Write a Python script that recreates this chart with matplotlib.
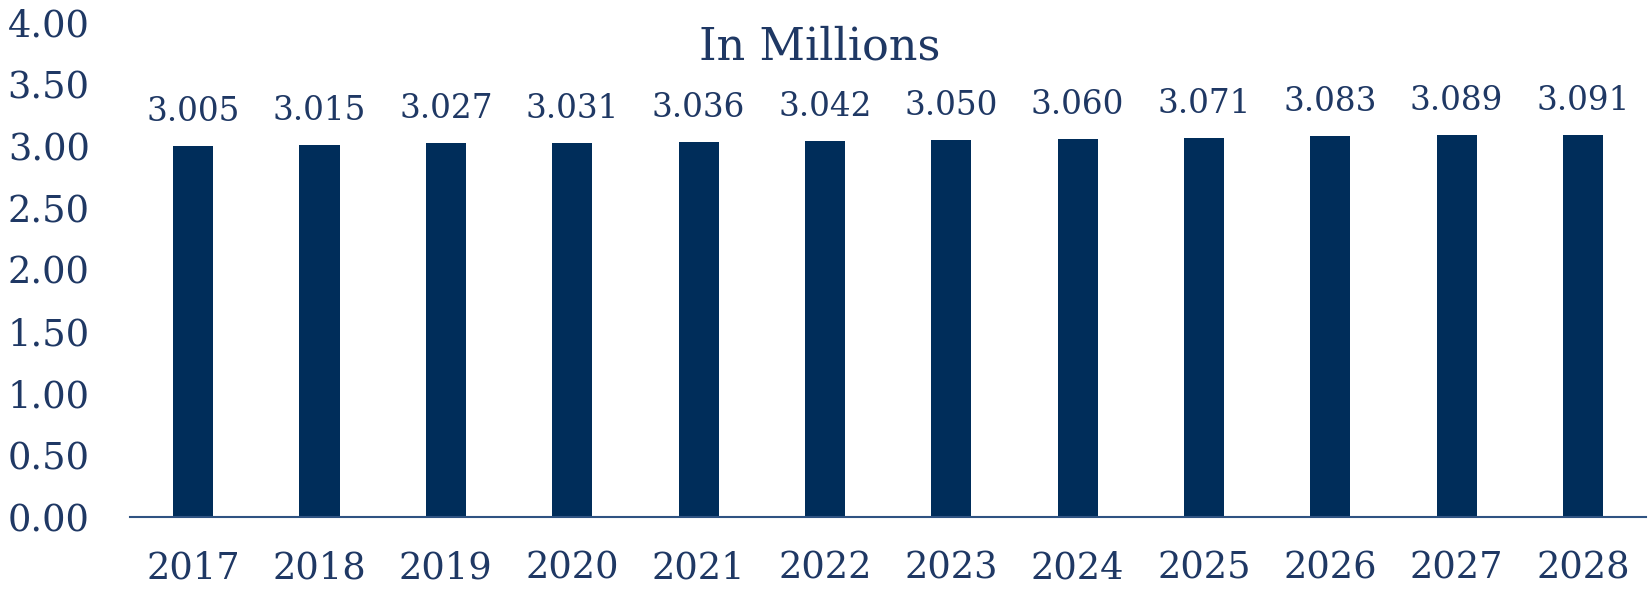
import matplotlib
matplotlib.use('Agg')
import matplotlib.pyplot as plt

years = ['2017', '2018', '2019', '2020', '2021', '2022',
         '2023', '2024', '2025', '2026', '2027', '2028']
values = [3.005, 3.015, 3.027, 3.031, 3.036, 3.042,
          3.050, 3.060, 3.071, 3.083, 3.089, 3.091]
yticks = [0.0, 0.5, 1.0, 1.5, 2.0, 2.5, 3.0, 3.5, 4.0]

BAR = '#002D5A'
TEXT = '#1F3864'

plt.rcParams['font.family'] = ['DejaVu Serif']

fig = plt.figure(figsize=(16.5, 5.89), dpi=100)
ax = fig.add_axes([0.0788, 0.1222, 0.9188, 0.8388])

x = list(range(len(years)))
bars = ax.bar(x, values, width=0.317, color=BAR, zorder=2)
for xi, v in zip(x, values):
    ax.annotate('%.3f' % v, (xi, v), xytext=(0, 13), textcoords='offset points',
                ha='center', va='bottom', fontsize=23.5, color=TEXT)

ax.set_xlim(-0.5, len(years) - 0.5)
ax.set_ylim(0, 4)
ax.set_xticks(x)
ax.set_xticklabels(years)
ax.set_yticks(yticks)
ax.set_yticklabels(['%.2f' % t for t in yticks])
ax.tick_params(axis='both', length=0, labelsize=26.5, colors=TEXT)
ax.tick_params(axis='y', pad=29)
ax.tick_params(axis='x', pad=24)

for s in ['top', 'right', 'left']:
    ax.spines[s].set_visible(False)
ax.spines['bottom'].set_color('#2F5382')
ax.spines['bottom'].set_linewidth(1.5)

fig.text(0.497, 0.92, 'In Millions', ha='center', va='center',
         fontsize=32, color=TEXT)

fig.savefig('out.png', dpi=100)
